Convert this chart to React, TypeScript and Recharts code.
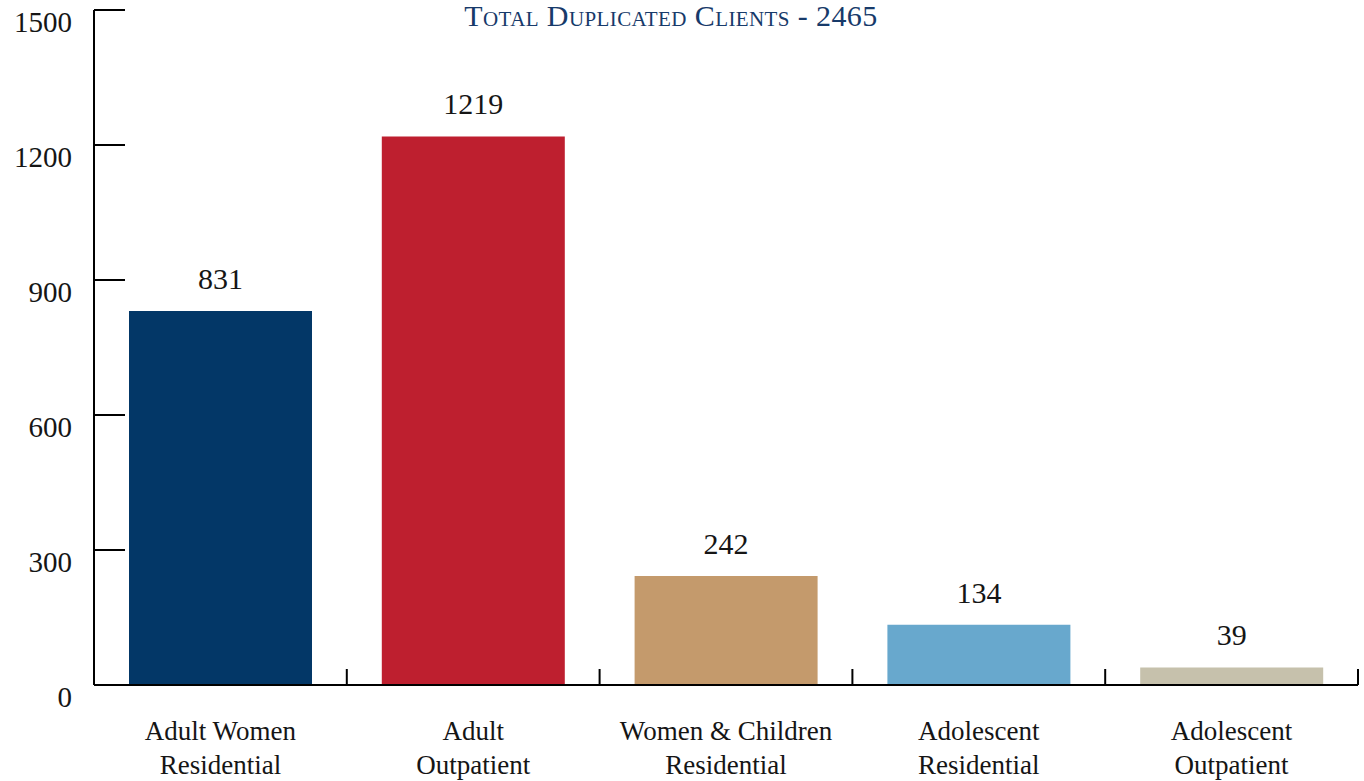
import React from 'react';
import { BarChart, Bar, XAxis, YAxis, Cell, LabelList } from 'recharts';

const categories = [
  'Adult Women\nResidential',
  'Adult\nOutpatient',
  'Women & Children\nResidential',
  'Adolescent\nResidential',
  'Adolescent\nOutpatient',
];
const clients = [831, 1219, 242, 134, 39];
const barColors = ['#033767', '#BE1F2F', '#C49A6C', '#68A8CD', '#C6C1AC'];
const yTicks = [0, 300, 600, 900, 1200, 1500];
const boundaryTicks = [1, 2, 3, 4, 5];
const title = 'Total Duplicated Clients - 2465';

const data = categories.map((name, i) => ({ name, value: clients[i] }));

const FONT = '"Liberation Serif", "DejaVu Serif", serif';
const TEXT = '#151515';

function CategoryTick(props: any) {
  const { x, y, payload } = props;
  const lines = String(payload.value).split('\n');
  return (
    <text x={x} y={y + 55} textAnchor="middle" fontFamily={FONT} fontSize={27} fill={TEXT}>
      {lines.map((l: string, i: number) => (
        <tspan key={i} x={x} dy={i === 0 ? 0 : 34}>
          {l}
        </tspan>
      ))}
    </text>
  );
}

function ValueTick(props: any) {
  const { x, y, payload } = props;
  return (
    <text x={x} y={y + 22} textAnchor="end" fontFamily={FONT} fontSize={29} fill={TEXT}>
      {payload.value}
    </text>
  );
}

function EmptyTick() {
  return <g />;
}

export default function App() {
  return (
    <div style={{ position: 'absolute', left: 0, top: 0, width: 1364, height: 781, background: '#fff' }}>
      <div
        style={{
          position: 'absolute',
          left: 671,
          top: -1,
          transform: 'translateX(-50%)',
          fontFamily: FONT,
          fontVariant: 'small-caps',
          fontSize: 30,
          color: '#173A6A',
          whiteSpace: 'nowrap',
          lineHeight: '34px',
          letterSpacing: 0.4,
        }}
      >
        {title}
      </div>
      <BarChart
        width={1364}
        height={781}
        data={data}
        margin={{ top: 10, right: 6, bottom: 0, left: 0 }}
        barCategoryGap={0}
      >
        <XAxis
          dataKey="name"
          height={96}
          axisLine={{ stroke: '#000', strokeWidth: 2 }}
          tickLine={false}
          tickSize={0}
          tickMargin={0}
          tick={<CategoryTick />}
          interval={0}
        />
        <XAxis
          xAxisId="edges"
          dataKey="value"
          type="number"
          domain={[0, 5]}
          ticks={boundaryTicks}
          allowDataOverflow
          mirror
          interval={0}
          axisLine={false}
          tick={EmptyTick}
          tickSize={16}
          tickLine={{ stroke: '#000', strokeWidth: 2 }}
        />
        <YAxis
          width={94}
          domain={[0, 1500]}
          ticks={yTicks}
          axisLine={{ stroke: '#000', strokeWidth: 2 }}
          tickLine={false}
          tickSize={0}
          tickMargin={22}
          tick={<ValueTick />}
          interval={0}
        />
        <YAxis
          yAxisId="ytick"
          domain={[0, 1500]}
          ticks={yTicks}
          allowDataOverflow
          mirror
          interval={0}
          width={31}
          axisLine={false}
          tick={EmptyTick}
          tickSize={31}
          tickLine={{ stroke: '#000', strokeWidth: 2 }}
        />
        <Bar dataKey="value" barSize={183} isAnimationActive={false}>
          {data.map((d, i) => (
            <Cell key={d.name} fill={barColors[i]} />
          ))}
          <LabelList
            dataKey="value"
            position="top"
            offset={22}
            fontFamily={FONT}
            fontSize={30}
            fill={TEXT}
          />
        </Bar>
      </BarChart>
    </div>
  );
}
